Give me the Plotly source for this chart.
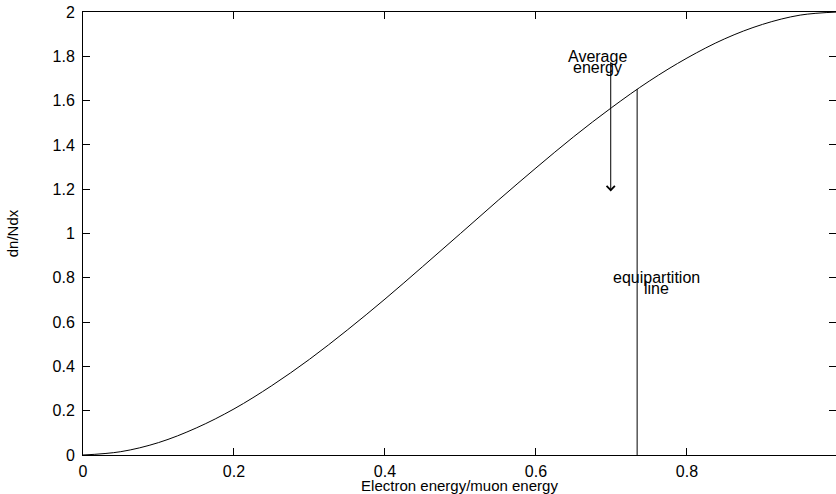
import plotly.graph_objects as go

# Spectrum
x_vals = [0.00, 0.05, 0.10, 0.15, 0.20, 0.25, 0.30, 0.35, 0.40, 0.45, 0.50,
          0.55, 0.60, 0.65, 0.70, 0.75, 0.80, 0.85, 0.90, 0.95, 1.00]
y_vals = [0.000, 0.015, 0.056, 0.122, 0.208, 0.313, 0.432, 0.564, 0.704, 0.851, 1.000,
          1.150, 1.296, 1.437, 1.568, 1.688, 1.792, 1.879, 1.944, 1.986, 2.000]

# Equipartition line
equi_x = [0.734, 0.734]
equi_y = [0.0, 1.652]

# Average-energy arrow (tail -> head)
avg_x = 0.699
avg_tail_y = 1.78
avg_head_y = 1.19

x_ticks = [0, 0.2, 0.4, 0.6, 0.8]
x_ticktext = ["0", "0.2", "0.4", "0.6", "0.8"]
y_ticks = [0, 0.2, 0.4, 0.6, 0.8, 1.0, 1.2, 1.4, 1.6, 1.8, 2.0]
y_ticktext = ["0", "0.2", "0.4", "0.6", "0.8", "1", "1.2", "1.4", "1.6", "1.8", "2"]

FONT = "Liberation Sans, Arial, sans-serif"

fig = go.Figure()
fig.add_trace(go.Scatter(x=x_vals, y=y_vals, mode="lines", line=dict(color="black", width=1, shape="spline"),
                         showlegend=False, hoverinfo="skip"))
fig.add_trace(go.Scatter(x=equi_x, y=equi_y, mode="lines", line=dict(color="black", width=1),
                         showlegend=False, hoverinfo="skip"))

fig.add_annotation(x=avg_x, y=avg_head_y, ax=avg_x, ay=avg_tail_y, xref="x", yref="y", axref="x", ayref="y",
                   text="", showarrow=True, arrowhead=4, arrowsize=1.6, arrowwidth=1, arrowcolor="black")

tfont = dict(family=FONT, size=15, color="black")
afont = dict(family=FONT, size=16, color="black")
fig.add_annotation(x=0.681, y=1.80, xref="x", yref="y", text="Average", showarrow=False, font=afont)
fig.add_annotation(x=0.681, y=1.75, xref="x", yref="y", text="energy", showarrow=False, font=afont)
fig.add_annotation(x=0.760, y=0.80, xref="x", yref="y", text="equipartition", showarrow=False, font=afont)
fig.add_annotation(x=0.760, y=0.75, xref="x", yref="y", text="line", showarrow=False, font=afont)

fig.update_xaxes(range=[0, 0.9974], tickvals=x_ticks, ticktext=x_ticktext, ticks="inside", ticklen=7,
                 tickcolor="black", showline=True, linecolor="black", linewidth=1, mirror="allticks",
                 showgrid=False, zeroline=False, tickfont=afont, automargin=False, ticklabelstandoff=2,
                 title=dict(text="Electron energy/muon energy", font=tfont, standoff=0))
fig.update_yaxes(range=[0, 2], tickvals=y_ticks, ticktext=y_ticktext, ticks="inside", ticklen=7,
                 tickcolor="black", showline=True, linecolor="black", linewidth=1, mirror="allticks",
                 showgrid=False, zeroline=False, tickfont=afont, ticklabelstandoff=4, automargin=False,
                 ticklabeloverflow="allow",
                 title=dict(text="dn/Ndx", font=tfont, standoff=30))

fig.update_layout(width=836, height=494, margin=dict(l=83, r=0, t=12, b=39),
                  plot_bgcolor="white", paper_bgcolor="white", font=dict(family=FONT))

fig.write_html("out.html", config={"displayModeBar": False},
               post_script="document.body.style.margin='0';")
